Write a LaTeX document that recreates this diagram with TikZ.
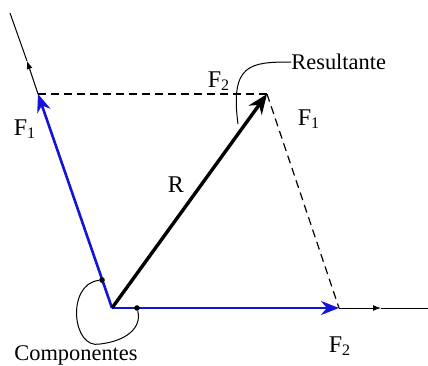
\documentclass[tikz,border=0pt]{standalone}
\usepackage{fontspec}
\setmainfont{Liberation Serif}
\usepackage{tikz}
\usetikzlibrary{arrows.meta, positioning, calc}
\definecolor{birukomponen}{RGB}{20, 20, 215}

\begin{document}
\begin{tikzpicture}[
    x=0.5pt, y=-0.5pt,
    font=\normalsize,
    komponen/.style={birukomponen, line width=1.3pt, -{Stealth[length=9pt, width=7pt]}},
    resultan/.style={black, line width=1.7pt, -{Stealth[length=10pt, width=8pt]}},
    garis/.style={black, line width=0.5pt},
    arahkecil/.style={black, line width=0.5pt, -{Latex[length=4pt, width=3pt]}},
    bantu/.style={black, line width=0.6pt, dashed, dash pattern=on 4pt off 2.5pt},
    label/.style={font=\large},
    keterangan/.style={inner sep=0pt, font=\fontsize{11.2}{13}\selectfont},
    titik/.style={circle, fill=black, inner sep=0pt, minimum size=2.8pt}
  ]
    \useasboundingbox (0,0) rectangle (428,365);
    % titik-titik utama
    \coordinate (O) at (112,308);
    \coordinate (A) at (38,94);
    \coordinate (B) at (339,308);
    \coordinate (C) at (267,94);
    \coordinate (ujungA) at (10,13);
    \coordinate (tengahA) at (27,61);
    \coordinate (ujungB) at (428,308);
    \coordinate (tengahB) at (381,308);
    % garis kerja
    \draw[arahkecil] (A) -- (tengahA);
    \draw[garis] (tengahA) -- (ujungA);
    \draw[arahkecil] (B) -- (tengahB);
    \draw[garis] (tengahB) -- (ujungB);
    % jajaran genjang
    \draw[bantu] (A) -- (C);
    \draw[bantu] (C) -- (B);
    % vektor
    \draw[komponen] (O) -- (A);
    \draw[komponen] (O) -- (B);
    \draw[resultan] (O) -- (C);
    % label
    \node[label] (f1a) at (25,129) {F\textsubscript{1}};
    \node[label] (f2a) at (219,81) {F\textsubscript{2}};
    \node[label] (f1b) at (309,119) {F\textsubscript{1}};
    \node[label] (f2b) at (340,346) {F\textsubscript{2}};
    \node[label] (r) at (176,185) {R};
    \node[keterangan, anchor=west] (res) at (291,62) {Resultante};
    \node[keterangan] (komp) at (76,355) {Componentes};
    % penunjuk
    \coordinate (p0) at (238,124);
    \draw[garis] (p0) .. controls (230,64) and (250,62) .. (res.west);
    \node[titik] (k1) at (102,280) {};
    \node[titik] (k2) at (137,308) {};
    \draw[garis] (k1) .. controls (66,284) and (72,350) .. (100,344)
                      .. controls (126,341) and (142,328) .. (k2);
  \end{tikzpicture}
\end{document}
